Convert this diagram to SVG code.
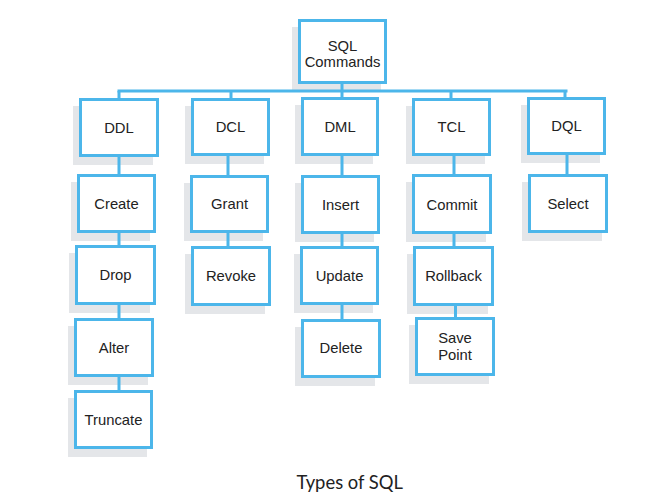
<svg xmlns="http://www.w3.org/2000/svg" width="672" height="498" viewBox="0 0 672 498">
<style>
.sh{fill:#e4e6e9}
.bx{fill:#fff;stroke:#4cb6ea;stroke-width:3}
.t{font-family:"Liberation Sans",Arial,sans-serif;font-size:14.8px;fill:#222;text-anchor:middle}
.c{stroke:#4cb6ea;stroke-width:3;fill:none}
.cap{font-family:Lato,"Open Sans",sans-serif;font-size:18.4px;fill:#222;text-anchor:middle}
</style>
<rect width="672" height="498" fill="#fff"/>
<g id="n-sql"><rect class="sh" x="292" y="27" width="89" height="65"/><rect class="bx" x="299.5" y="20.5" width="86" height="62"/><text class="t" x="342.5" y="50.7">SQL</text><text class="t" x="342.5" y="67.3">Commands</text></g>
<g id="n-ddl"><rect class="sh" x="73" y="106" width="80" height="59"/><rect class="bx" x="80.5" y="99.5" width="77" height="56"/><text class="t" x="119" y="132.5">DDL</text></g>
<g id="n-dcl"><rect class="sh" x="185" y="106" width="79" height="58"/><rect class="bx" x="192.5" y="99.5" width="76" height="55"/><text class="t" x="230.5" y="132">DCL</text></g>
<g id="n-dml"><rect class="sh" x="295" y="105" width="78" height="59"/><rect class="bx" x="302.5" y="98.5" width="75" height="56"/><text class="t" x="340" y="131.5">DML</text></g>
<g id="n-tcl"><rect class="sh" x="406" y="106" width="79" height="58"/><rect class="bx" x="413.5" y="99.5" width="76" height="55"/><text class="t" x="451.5" y="132">TCL</text></g>
<g id="n-dql"><rect class="sh" x="521" y="105" width="79" height="58"/><rect class="bx" x="528.5" y="98.5" width="76" height="55"/><text class="t" x="566.5" y="131">DQL</text></g>
<g id="n-create"><rect class="sh" x="71" y="182" width="79" height="59"/><rect class="bx" x="78.5" y="175.5" width="76" height="56"/><text class="t" x="116.5" y="208.5">Create</text></g>
<g id="n-grant"><rect class="sh" x="184" y="183" width="79" height="58"/><rect class="bx" x="191.5" y="176.5" width="76" height="55"/><text class="t" x="229.5" y="208.5">Grant</text></g>
<g id="n-insert"><rect class="sh" x="295" y="183" width="79" height="59"/><rect class="bx" x="302.5" y="176.5" width="76" height="56"/><text class="t" x="340.5" y="209.5">Insert</text></g>
<g id="n-commit"><rect class="sh" x="406" y="182" width="80" height="60"/><rect class="bx" x="413.5" y="175.5" width="77" height="57"/><text class="t" x="452" y="209.5">Commit</text></g>
<g id="n-select"><rect class="sh" x="522" y="182" width="80" height="59"/><rect class="bx" x="529.5" y="175.5" width="77" height="56"/><text class="t" x="568" y="208.5">Select</text></g>
<g id="n-drop"><rect class="sh" x="69" y="253" width="81" height="60"/><rect class="bx" x="76.5" y="246.5" width="78" height="57"/><text class="t" x="115.5" y="280">Drop</text></g>
<g id="n-revoke"><rect class="sh" x="185" y="254" width="80" height="60"/><rect class="bx" x="192.5" y="247.5" width="77" height="57"/><text class="t" x="231" y="281">Revoke</text></g>
<g id="n-update"><rect class="sh" x="294" y="254" width="79" height="59"/><rect class="bx" x="301.5" y="247.5" width="76" height="56"/><text class="t" x="339.5" y="280.5">Update</text></g>
<g id="n-rollback"><rect class="sh" x="407" y="254" width="81" height="60"/><rect class="bx" x="414.5" y="247.5" width="78" height="57"/><text class="t" x="453.5" y="281">Rollback</text></g>
<g id="n-alter"><rect class="sh" x="68" y="326" width="80" height="59"/><rect class="bx" x="75.5" y="319.5" width="77" height="56"/><text class="t" x="114" y="352.7">Alter</text></g>
<g id="n-delete"><rect class="sh" x="295" y="327" width="80" height="59"/><rect class="bx" x="302.5" y="320.5" width="77" height="56"/><text class="t" x="341" y="352.5">Delete</text></g>
<g id="n-savepoint"><rect class="sh" x="409" y="325" width="80" height="59"/><rect class="bx" x="416.5" y="318.5" width="77" height="56"/><text class="t" x="455" y="343.3">Save</text><text class="t" x="455" y="360">Point</text></g>
<g id="n-truncate"><rect class="sh" x="68" y="398" width="79" height="59"/><rect class="bx" x="75.5" y="391.5" width="76" height="56"/><text class="t" x="113.5" y="425">Truncate</text></g>
<g id="connectors">
<path class="c" d="M342 83V92M117.5 91H567.5"/>
<path class="c" d="M119 91V99M119 156V175M119 232V246M119 304V319M119 376V391"/>
<path class="c" d="M231 91V99M228 155V177M228 232V248"/>
<path class="c" d="M342 91V98M342 155V177M342 233V248M342 304V321"/>
<path class="c" d="M451 91V99M454 155V176M454 233V248M455.5 305V319"/>
<path class="c" d="M565 91V99M567 154V176"/>
</g>
<text class="cap" x="349.7" y="489">Types of SQL</text>
</svg>
